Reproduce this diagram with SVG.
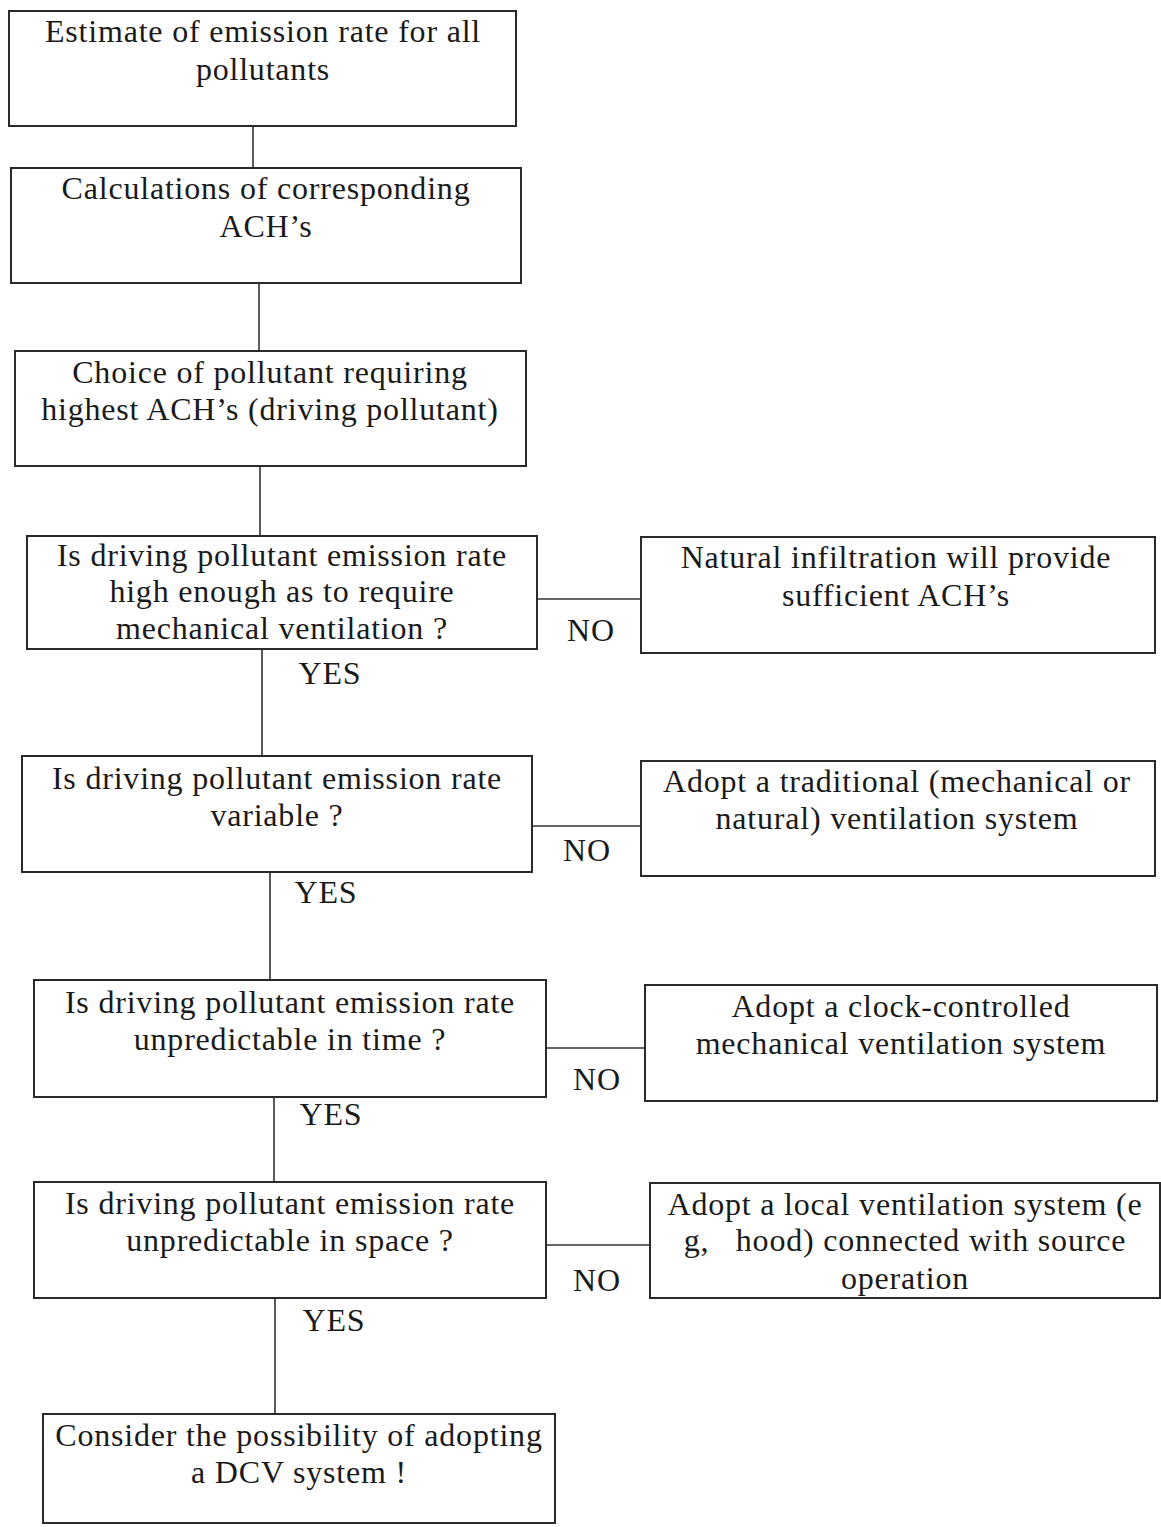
<svg xmlns="http://www.w3.org/2000/svg" width="1161" height="1527" viewBox="0 0 1161 1527">
<style>
.box{fill:#fff;stroke:#2a2a2a;stroke-width:2}
.t{font-family:"Liberation Serif","Times New Roman",serif;font-size:32px;letter-spacing:0.8px;fill:#1a1a1a;text-anchor:middle}
.lbl{font-family:"Liberation Serif","Times New Roman",serif;font-size:32px;letter-spacing:0.8px;fill:#1a1a1a;text-anchor:middle}
.c{stroke:#333;stroke-width:1.6;fill:none}
</style>
<rect width="1161" height="1527" fill="#fff"/>
<g id="connectors">
<line class="c" x1="253" y1="126" x2="253" y2="168"/>
<line class="c" x1="259" y1="283" x2="259" y2="351"/>
<line class="c" x1="260" y1="466" x2="260" y2="536"/>
<line class="c" x1="537" y1="599" x2="641" y2="599"/>
<line class="c" x1="262" y1="649" x2="262" y2="756"/>
<line class="c" x1="532" y1="826" x2="641" y2="826"/>
<line class="c" x1="270" y1="872" x2="270" y2="980"/>
<line class="c" x1="546" y1="1048" x2="645" y2="1048"/>
<line class="c" x1="274" y1="1097" x2="274" y2="1182"/>
<line class="c" x1="546" y1="1245" x2="650" y2="1245"/>
<line class="c" x1="275" y1="1298" x2="275" y2="1414"/>
<text class="lbl" x="591" y="641">NO</text>
<text class="lbl" x="587" y="861">NO</text>
<text class="lbl" x="597" y="1090">NO</text>
<text class="lbl" x="597" y="1291">NO</text>
<text class="lbl" x="330" y="684">YES</text>
<text class="lbl" x="326" y="903">YES</text>
<text class="lbl" x="331" y="1125">YES</text>
<text class="lbl" x="334" y="1331">YES</text>
</g>
<g id="n1"><rect class="box" x="9" y="11" width="507" height="115"/>
<text class="t" x="263" y="42">Estimate of emission rate for all</text>
<text class="t" x="263" y="80">pollutants</text></g>
<g id="n2"><rect class="box" x="11" y="168" width="510" height="115"/>
<text class="t" x="266" y="199">Calculations of corresponding</text>
<text class="t" x="266" y="237">ACH’s</text></g>
<g id="n3"><rect class="box" x="15" y="351" width="511" height="115"/>
<text class="t" x="270" y="383">Choice of pollutant requiring</text>
<text class="t" x="270" y="420">highest ACH’s (driving pollutant)</text></g>
<g id="n4"><rect class="box" x="27" y="536" width="510" height="113"/>
<text class="t" x="282" y="566">Is driving pollutant emission rate</text>
<text class="t" x="282" y="602">high enough as to require</text>
<text class="t" x="282" y="639">mechanical ventilation ?</text></g>
<g id="r1"><rect class="box" x="641" y="537" width="514" height="116"/>
<text class="t" x="896" y="568">Natural infiltration will provide</text>
<text class="t" x="896" y="606">sufficient ACH’s</text></g>
<g id="n5"><rect class="box" x="22" y="756" width="510" height="116"/>
<text class="t" x="277" y="789">Is driving pollutant emission rate</text>
<text class="t" x="277" y="826">variable ?</text></g>
<g id="r2"><rect class="box" x="641" y="761" width="514" height="115"/>
<text class="t" x="897" y="792">Adopt a traditional (mechanical or</text>
<text class="t" x="897" y="829">natural) ventilation system</text></g>
<g id="n6"><rect class="box" x="34" y="980" width="512" height="117"/>
<text class="t" x="290" y="1013">Is driving pollutant emission rate</text>
<text class="t" x="290" y="1050">unpredictable in time ?</text></g>
<g id="r3"><rect class="box" x="645" y="985" width="512" height="116"/>
<text class="t" x="901" y="1017">Adopt a clock-controlled</text>
<text class="t" x="901" y="1054">mechanical ventilation system</text></g>
<g id="n7"><rect class="box" x="34" y="1182" width="512" height="116"/>
<text class="t" x="290" y="1214">Is driving pollutant emission rate</text>
<text class="t" x="290" y="1251">unpredictable in space ?</text></g>
<g id="r4"><rect class="box" x="650" y="1183" width="510" height="115"/>
<text class="t" x="905" y="1215">Adopt a local ventilation system (e</text>
<text class="t" x="905" y="1251" xml:space="preserve">g,   hood) connected with source</text>
<text class="t" x="905" y="1289">operation</text></g>
<g id="n8"><rect class="box" x="43" y="1414" width="512" height="109"/>
<text class="t" x="299" y="1446">Consider the possibility of adopting</text>
<text class="t" x="299" y="1483">a DCV system !</text></g>
</svg>
